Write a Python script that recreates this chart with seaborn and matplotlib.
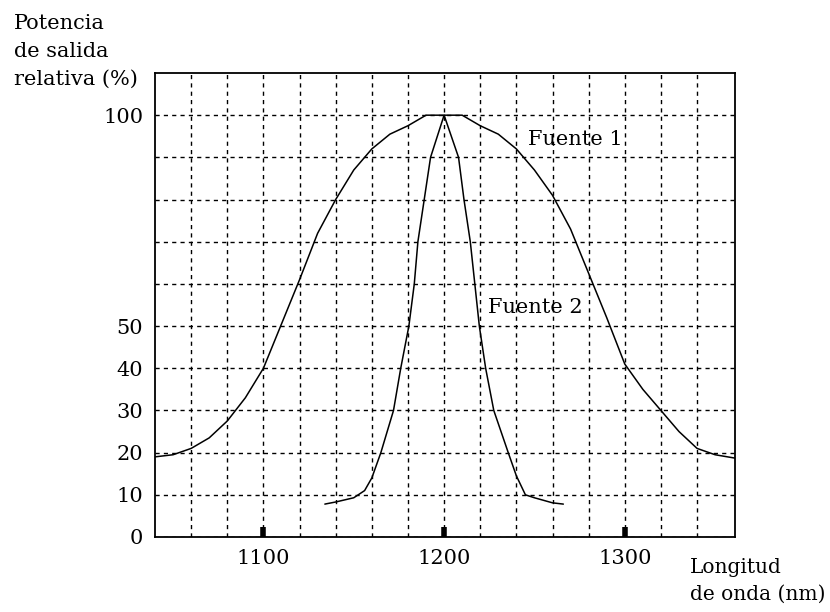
import numpy as np
import pandas as pd
import matplotlib
matplotlib.use("Agg")
import matplotlib.pyplot as plt
import seaborn as sns

# ─── Data ─────────────────────────────────────────────────────────────────────
# Fuente 1: broad emission spectrum (wavelength nm, relative output %)
wl_1 = [1040, 1050, 1060, 1070, 1080, 1090, 1100, 1110, 1120, 1130, 1140,
        1150, 1160, 1170, 1180, 1190, 1200, 1210, 1220, 1230, 1240, 1250,
        1260, 1270, 1280, 1290, 1300, 1310, 1320, 1330, 1340, 1350, 1361]
pw_1 = [19.0, 19.5, 21.0, 23.5, 27.5, 33.0, 40.0, 50.5, 61.0, 72.0, 80.0,
        87.0, 92.0, 95.5, 97.5, 100.0, 100.0, 100.0, 97.5, 95.5, 92.0, 87.0,
        81.0, 73.0, 62.5, 52.0, 41.0, 35.0, 30.0, 25.0, 21.0, 19.5, 18.7]

# Fuente 2: narrow emission spectrum
wl_2 = [1134, 1140, 1150, 1156, 1160, 1165, 1172, 1176, 1180.5, 1183.5,
        1185.5, 1189, 1192.5, 1200, 1208, 1211, 1214.5, 1217, 1219.5, 1223,
        1227.5, 1235.5, 1240, 1245, 1250, 1260, 1266]
pw_2 = [7.8, 8.3, 9.3, 11.0, 14.0, 20.0, 30.0, 40.0, 50.0, 60.0,
        70.0, 80.0, 90.0, 100.0, 90.0, 80.0, 70.0, 60.0, 50.0, 40.0,
        30.0, 20.0, 14.5, 10.0, 9.3, 8.1, 7.8]

x_ticks = [1100, 1200, 1300]
x_grid = [1060, 1080, 1120, 1140, 1160, 1180, 1220, 1240, 1260, 1280, 1320, 1340]
y_ticks = [0, 10, 20, 30, 40, 50, 100]
y_grid = [60, 70, 80, 90]

ylabel_lines = ["Potencia", "de salida", "relativa (%)"]
xlabel_lines = ["Longitud", "de onda (nm)"]

df = pd.concat([
    pd.DataFrame({"wl": wl_1, "pw": pw_1, "fuente": "Fuente 1"}),
    pd.DataFrame({"wl": wl_2, "pw": pw_2, "fuente": "Fuente 2"}),
])

# ─── Style ────────────────────────────────────────────────────────────────────
sns.set_style("white")
plt.rcParams["font.family"] = ["DejaVu Serif"]
plt.rcParams["text.color"] = "black"
plt.rcParams["xtick.labelcolor"] = "black"
plt.rcParams["ytick.labelcolor"] = "black"
FS = 15

W, H = 830, 612
fig = plt.figure(figsize=(W / 100, H / 100), dpi=100)
ax = fig.add_axes([155 / W, 1 - 537 / H, 580 / W, 464 / H])

sns.lineplot(data=df, x="wl", y="pw", units="fuente", estimator=None,
             sort=False, color="black", linewidth=1.1, ax=ax)

ax.set_xlim(1040, 1361)
ax.set_ylim(0, 110)

ax.set_xticks(x_ticks)
ax.set_xticks(x_grid, minor=True)
ax.set_yticks(y_ticks)
ax.set_yticks(y_grid, minor=True)
ax.grid(True, which="both", color="black", linestyle=(0, (3, 3)), linewidth=1.0)
ax.set_axisbelow(True)

ax.tick_params(axis="x", which="major", bottom=True, direction="in", length=7,
               width=4, color="black", labelsize=FS, labelcolor="black", pad=9)
ax.tick_params(axis="y", which="major", left=False, labelsize=FS,
               labelcolor="black", pad=5)
ax.tick_params(which="minor", length=0)

for sp in ax.spines.values():
    sp.set_color("black")
    sp.set_linewidth(1.3)

ax.set_xlabel("")
ax.set_ylabel("")

ax.text(1246.5, 93.0, "Fuente 1", fontsize=FS, color="black",
        va="baseline", ha="left")
ax.text(1224.5, 53.2, "Fuente 2", fontsize=FS, color="black",
        va="baseline", ha="left")

# multi-line axis titles, one baseline per line
for line, base in zip(ylabel_lines, [29, 57, 85]):
    fig.text(14 / W, 1 - base / H, line, fontsize=FS, color="black",
             ha="left", va="baseline")
for line, base in zip(xlabel_lines, [573, 600]):
    fig.text(690 / W, 1 - base / H, line, fontsize=14.5, color="black",
             ha="left", va="baseline")

plt.savefig("out.png", dpi=100)
plt.close()
